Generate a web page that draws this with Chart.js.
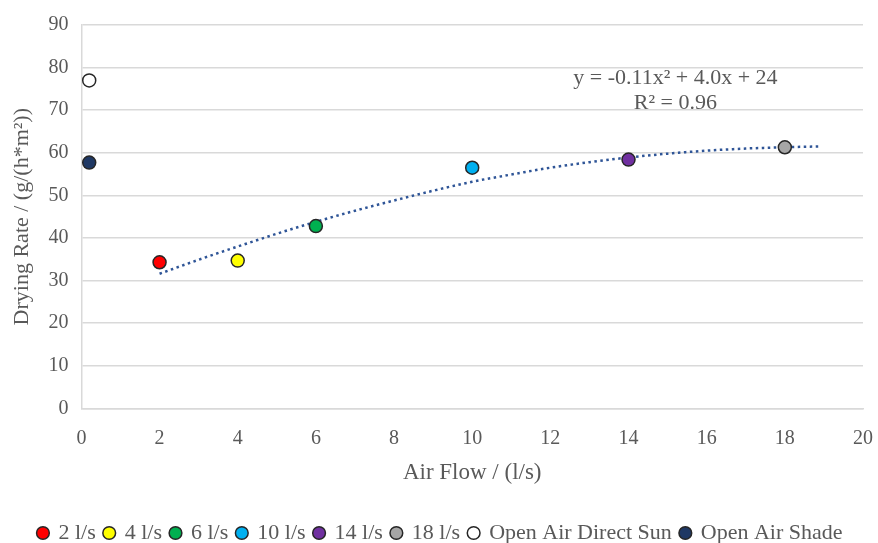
<!DOCTYPE html>
<html>
<head>
<meta charset="utf-8">
<script src="https://cdn.jsdelivr.net/npm/chart.js@4"></script>
<style>
html,body{margin:0;padding:0;background:#fff;}
#wrap{width:878px;height:543px;}
</style>
</head>
<body>
<div id="wrap"><canvas id="c" width="878" height="543"></canvas></div>
<script>
const seriesNames = ["2 l/s","4 l/s","6 l/s","10 l/s","14 l/s","18 l/s","Open Air Direct Sun","Open Air Shade"];
const airFlow = [2,4,6,10,14,18,0.2,0.2];
const dryingRate = [34.3,34.7,42.8,56.5,58.4,61.3,77.0,57.7];
const fillColors = ["#ff0000","#ffff00","#00b050","#00b0f0","#7030a0","#a6a6a6","#ffffff","#1f3864"];
const trendX = [2,3,4,5,6,7,8,9,10,11,12,13,14,15,16,17,18,18.9];
const trendY = [31.6,34.9,38.0,41.0,43.8,46.4,48.8,51.1,53.2,54.9,56.5,57.8,58.9,59.8,60.5,61.0,61.3,61.5];
const equationText = "y = -0.11x² + 4.0x + 24";
const r2Text = "R² = 0.96";
const xTicks = [0,2,4,6,8,10,12,14,16,18,20];
const yTicks = [0,10,20,30,40,50,60,70,80,90];

const FONT = "'Liberation Serif', 'Times New Roman', serif";
const TXT = "#595959";

const datasets = seriesNames.map((n,i)=>({
  label:n,
  data:[{x:airFlow[i],y:dryingRate[i]}],
  backgroundColor:fillColors[i],
  borderColor:"#262626",
  borderWidth:1.5,
  pointRadius:6.5,
  pointHoverRadius:6.5,
  pointStyle:'circle',
  order:1
}));
datasets.push({
  label:"trend",
  type:'line',
  data:trendX.map((x,i)=>({x:x,y:trendY[i]})),
  borderColor:"#2f5597",
  borderWidth:2.5,
  borderDash:[2.5,3.5],
  pointRadius:0,
  fill:false,
  cubicInterpolationMode:'monotone',
  order:2
});

const annot = {
  id:'annot',
  afterDatasetsDraw(chart){
    const {ctx,scales} = chart;
    ctx.save();
    ctx.fillStyle = TXT;
    ctx.font = "22px " + FONT;
    ctx.textAlign = 'center';
    ctx.textBaseline = 'middle';
    const cx = scales.x.getPixelForValue(15.2);
    ctx.fillText(equationText, cx, scales.y.getPixelForValue(77.4));
    ctx.fillText(r2Text, cx, scales.y.getPixelForValue(71.6));
    ctx.restore();
  }
};

new Chart(document.getElementById('c'),{
  type:'scatter',
  data:{datasets},
  plugins:[annot],
  options:{
    responsive:false,
    animation:false,
    layout:{padding:{left:3,right:0,top:0,bottom:-11}},
    plugins:{
      tooltip:{enabled:false},
      legend:{
        position:'bottom',
        labels:{
          filter:(item)=>item.text!=="trend",
          usePointStyle:true,
          pointStyle:'circle',
          boxWidth:9,
          boxHeight:9,
          padding:9,
          color:TXT,
          font:{family:FONT,size:22}
        }
      }
    },
    scales:{
      x:{
        type:'linear',
        min:0,max:20,
        afterBuildTicks:(s)=>{s.ticks = xTicks.map(v=>({value:v}));},
        afterFit:(s)=>{s.paddingRight = 15; s.paddingLeft = 0;},
        grid:{display:false,drawTicks:false},
        border:{display:true,color:"#d9d9d9",width:1.5},
        ticks:{color:TXT,font:{family:FONT,size:20},padding:18},
        title:{display:true,text:"Air Flow / (l/s)",color:TXT,font:{family:FONT,size:23},padding:{top:-9,bottom:26}}
      },
      y:{
        min:0,max:90,
        afterBuildTicks:(s)=>{s.ticks = yTicks.map(v=>({value:v}));},
        grid:{color:"#d9d9d9",lineWidth:1.5,drawTicks:false},
        border:{display:true,color:"#d9d9d9",width:1.5},
        ticks:{color:TXT,font:{family:FONT,size:20},padding:13},
        title:{display:true,text:"Drying Rate / (g/(h*m²))",color:TXT,font:{family:FONT,size:22},padding:{top:6,bottom:0}}
      }
    }
  }
});
</script>
</body>
</html>
